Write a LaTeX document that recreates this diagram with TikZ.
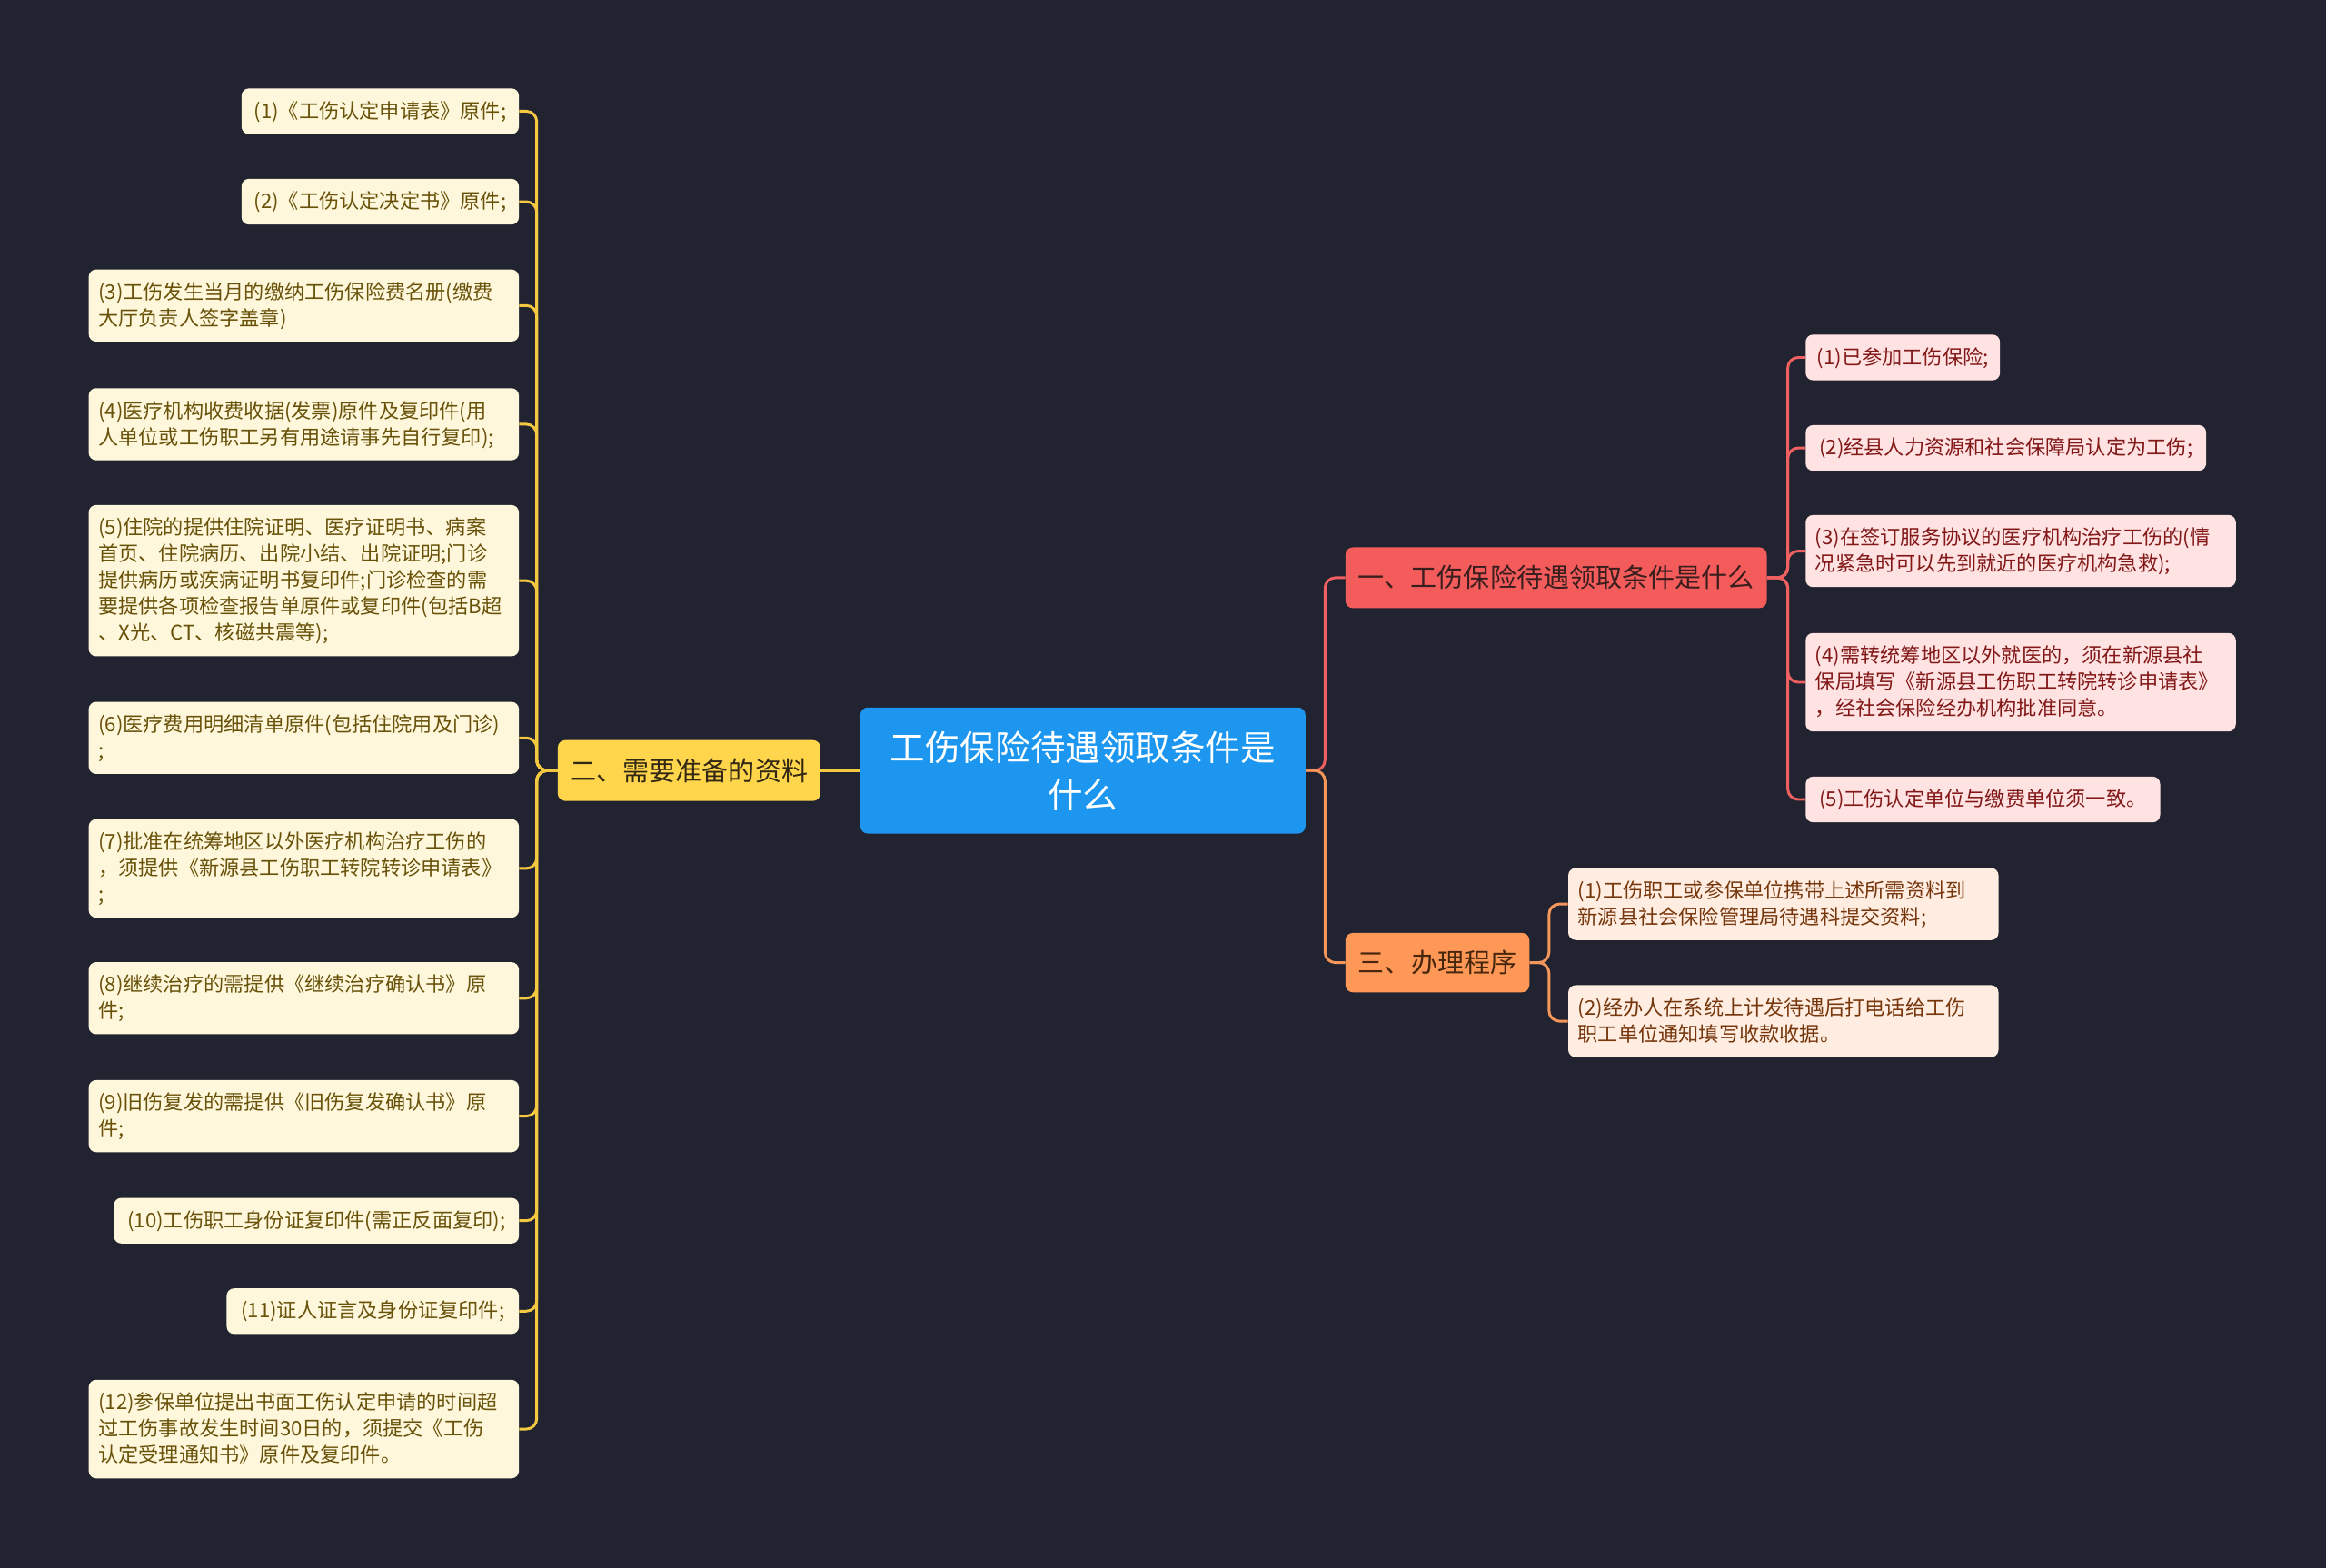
\documentclass[tikz,border=0pt]{standalone}
\usepackage{fontspec}
\setmainfont{Noto Sans CJK SC}
\definecolor{bgc}{RGB}{33,36,48}
\definecolor{rootc}{RGB}{28,150,238}
\definecolor{redc}{RGB}{244,92,92}
\definecolor{yelc}{RGB}{255,213,76}
\definecolor{orac}{RGB}{255,152,86}
\definecolor{ylfill}{RGB}{255,247,219}
\definecolor{yltext}{RGB}{104,82,10}
\definecolor{rlfill}{RGB}{255,226,226}
\definecolor{rltext}{RGB}{130,24,24}
\definecolor{olfill}{RGB}{255,237,225}
\definecolor{oltext}{RGB}{118,54,12}
\definecolor{ylinec}{RGB}{245,200,66}
\definecolor{rlinec}{RGB}{240,96,96}
\definecolor{olinec}{RGB}{245,150,90}
\newcommand\zs{\rule[-4.2pt]{0pt}{17.8pt}}
\newcommand\rs{\rule[-6.5pt]{0pt}{32pt}}
\newcommand\leaffont{\fontsize{13.6}{17.8}\selectfont}
\newcommand\brfont{\fontsize{17.8}{22}\selectfont}
\newcommand\rootfont{\fontsize{23.6}{32}\selectfont}
\tikzset{
  leafbox/.style={rounded corners=5pt, inner xsep=6.5pt, inner ysep=6.5pt, font=\leaffont, align=left},
  yleaf/.style={leafbox, fill=ylfill, text=yltext},
  rleaf/.style={leafbox, fill=rlfill, text=rltext},
  oleaf/.style={leafbox, fill=olfill, text=oltext},
  wide/.style={text width=277pt},
  branch/.style={rounded corners=5pt, inner xsep=0pt, inner ysep=0pt, font=\brfont, text height=14.5pt, text depth=1pt, minimum height=41pt},
  con/.style={line width=1.8pt, rounded corners=7pt},
}
\begin{document}
\begin{tikzpicture}[x=1pt,y=-1pt]
\fill[bgc] (0,0) rectangle (1568,1057);
\useasboundingbox (0,0) rectangle (1568,1057);

% root
\node[fill=rootc, text=white, rounded corners=5pt, minimum width=300pt, minimum height=85pt, inner sep=0pt, font=\rootfont, align=center] (root) at (730,519.5) {\rs 工伤保险待遇领取条件是\\\rs 什么};

% branches
\node[branch, fill=redc, text={rgb,255:red,58;green,30;blue,30}, minimum width=284pt] (b1) at (1049,389.5) {一、工伤保险待遇领取条件是什么};
\node[branch, fill=yelc, text={rgb,255:red,50;green,40;blue,20}, minimum width=177pt] (b2) at (464.5,519.5) {二、需要准备的资料};
\node[branch, fill=orac, text={rgb,255:red,70;green,38;blue,12}, minimum width=124pt, minimum height=40pt] (b3) at (969,649) {三、办理程序};

% left leaves (yellow)
\node[yleaf, minimum width=187pt, anchor=east] (L1) at (350,75) {\zs(1)《工伤认定申请表》原件;};
\node[yleaf, minimum width=187pt, anchor=east] (L2) at (350,136) {\zs(2)《工伤认定决定书》原件;};
\node[yleaf, wide, anchor=east] (L3) at (350,206) {\zs(3)工伤发生当月的缴纳工伤保险费名册(缴费\\\zs 大厅负责人签字盖章)};
\node[yleaf, wide, anchor=east] (L4) at (350,286) {\zs(4)医疗机构收费收据(发票)原件及复印件(用\\\zs 人单位或工伤职工另有用途请事先自行复印);};
\node[yleaf, wide, anchor=east] (L5) at (350,391.5) {\zs(5)住院的提供住院证明、医疗证明书、病案\\\zs 首页、住院病历、出院小结、出院证明;门诊\\\zs 提供病历或疾病证明书复印件;门诊检查的需\\\zs 要提供各项检查报告单原件或复印件(包括B超\\\zs 、X光、CT、核磁共震等);};
\node[yleaf, wide, anchor=east] (L6) at (350,497.5) {\zs(6)医疗费用明细清单原件(包括住院用及门诊)\\\zs ;};
\node[yleaf, wide, anchor=east] (L7) at (350,585.5) {\zs(7)批准在统筹地区以外医疗机构治疗工伤的\\\zs ，须提供《新源县工伤职工转院转诊申请表》\\\zs ;};
\node[yleaf, wide, anchor=east] (L8) at (350,673) {\zs(8)继续治疗的需提供《继续治疗确认书》原\\\zs 件;};
\node[yleaf, wide, anchor=east] (L9) at (350,752.5) {\zs(9)旧伤复发的需提供《旧伤复发确认书》原\\\zs 件;};
\node[yleaf, minimum width=273pt, anchor=east] (L10) at (350,823) {\zs(10)工伤职工身份证复印件(需正反面复印);};
\node[yleaf, minimum width=197pt, anchor=east] (L11) at (350,884) {\zs(11)证人证言及身份证复印件;};
\node[yleaf, wide, anchor=east] (L12) at (350,963.5) {\zs(12)参保单位提出书面工伤认定申请的时间超\\\zs 过工伤事故发生时间30日的，须提交《工伤\\\zs 认定受理通知书》原件及复印件。};

% right leaves (red)
\node[rleaf, minimum width=131pt, anchor=west] (R1) at (1217,241) {\zs(1)已参加工伤保险;};
\node[rleaf, minimum width=270pt, anchor=west] (R2) at (1217,302) {\zs(2)经县人力资源和社会保障局认定为工伤;};
\node[rleaf, wide, anchor=west] (R3) at (1217,371.5) {\zs(3)在签订服务协议的医疗机构治疗工伤的(情\\\zs 况紧急时可以先到就近的医疗机构急救);};
\node[rleaf, wide, anchor=west] (R4) at (1217,460) {\zs(4)需转统筹地区以外就医的，须在新源县社\\\zs 保局填写《新源县工伤职工转院转诊申请表》\\\zs ，经社会保险经办机构批准同意。};
\node[rleaf, minimum width=239pt, anchor=west] (R5) at (1217,539) {\zs(5)工伤认定单位与缴费单位须一致。};

% orange leaves
\node[oleaf, wide, anchor=west] (O1) at (1057,609.5) {\zs(1)工伤职工或参保单位携带上述所需资料到\\\zs 新源县社会保险管理局待遇科提交资料;};
\node[oleaf, wide, anchor=west] (O2) at (1057,688.5) {\zs(2)经办人在系统上计发待遇后打电话给工伤\\\zs 职工单位通知填写收款收据。};

% connectors root - branches
\draw[con, draw=ylinec] (root.west) -- (b2.east);
\draw[con, draw=rlinec] (root.east) -- ++(13,0) |- (b1.west);
\draw[con, draw=olinec] (root.east) -- ++(13,0) |- (b3.west);

% yellow
\foreach \n in {L1,L2,L3,L4,L5,L6,L7,L8,L9,L10,L11,L12}
  \draw[con, draw=ylinec] (b2.west) -- ++(-14,0) |- (\n.east);
% red
\foreach \n in {R1,R2,R3,R4,R5}
  \draw[con, draw=rlinec] (b1.east) -- ++(14,0) |- (\n.west);
% orange
\foreach \n in {O1,O2}
  \draw[con, draw=olinec] (b3.east) -- ++(13,0) |- (\n.west);
\end{tikzpicture}
\end{document}
